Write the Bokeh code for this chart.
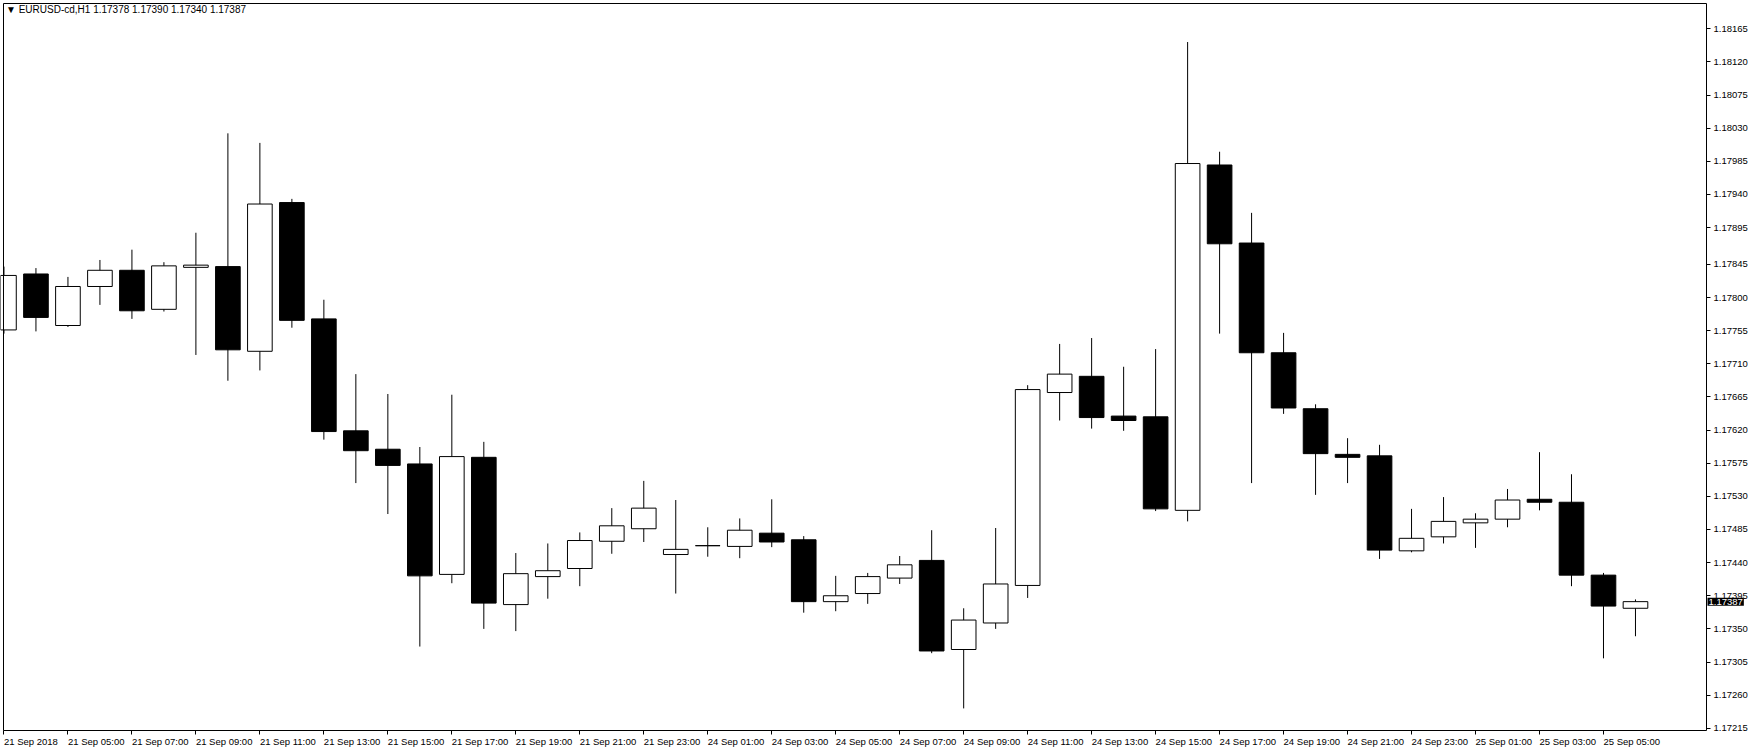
from bokeh.plotting import figure
from bokeh.models import (Range1d, FixedTicker, NumeralTickFormatter, Label,
                          ColumnDataSource, LinearAxis)
from bokeh.embed import file_html
from bokeh.resources import INLINE

title_text = "\u25bc EURUSD-cd,H1  1.17378 1.17390 1.17340 1.17387"

# hourly bars, 21 Sep 2018 03:00 ... 25 Sep 2018 06:00
opens = [1.17756, 1.17832, 1.17762, 1.17815, 1.17837, 1.17784, 1.17841, 1.17842, 1.17727, 1.17929,
         1.17771, 1.17619, 1.17594, 1.17574, 1.17424, 1.17583, 1.17383, 1.17421, 1.17432, 1.17469,
         1.17486, 1.17451, 1.17463, 1.17462, 1.17480, 1.17471, 1.17387, 1.17398, 1.17419, 1.17443,
         1.17322, 1.17358, 1.17409, 1.17671, 1.17693, 1.17639, 1.17638, 1.17511, 1.17980, 1.17874,
         1.17725, 1.17649, 1.17587, 1.17585, 1.17456, 1.17475, 1.17494, 1.17499, 1.17526, 1.17522,
         1.17423, 1.17378]
highs = [1.17842, 1.17840, 1.17828, 1.17851, 1.17865, 1.17848, 1.17888, 1.18023, 1.18010, 1.17934,
         1.17797, 1.17696, 1.17669, 1.17597, 1.17668, 1.17604, 1.17453, 1.17466, 1.17481, 1.17514,
         1.17551, 1.17525, 1.17488, 1.17500, 1.17526, 1.17476, 1.17422, 1.17426, 1.17449, 1.17484,
         1.17378, 1.17487, 1.17681, 1.17737, 1.17745, 1.17706, 1.17730, 1.18147, 1.17998, 1.17915,
         1.17752, 1.17655, 1.17609, 1.17600, 1.17513, 1.17529, 1.17507, 1.17540, 1.17590, 1.17560,
         1.17426, 1.17390]
lows = [1.17751, 1.17754, 1.17760, 1.17790, 1.17771, 1.17781, 1.17722, 1.17687, 1.17701, 1.17759,
        1.17607, 1.17548, 1.17506, 1.17326, 1.17412, 1.17350, 1.17347, 1.17391, 1.17408, 1.17452,
        1.17468, 1.17398, 1.17448, 1.17446, 1.17461, 1.17372, 1.17374, 1.17384, 1.17411, 1.17317,
        1.17242, 1.17350, 1.17392, 1.17633, 1.17622, 1.17619, 1.17510, 1.17496, 1.17751, 1.17548,
        1.17642, 1.17532, 1.17548, 1.17445, 1.17454, 1.17466, 1.17460, 1.17488, 1.17511, 1.17408,
        1.17310, 1.17340]
closes = [1.17830, 1.17773, 1.17815, 1.17837, 1.17782, 1.17843, 1.17844, 1.17729, 1.17927, 1.17769,
          1.17618, 1.17592, 1.17572, 1.17422, 1.17584, 1.17385, 1.17425, 1.17429, 1.17470, 1.17490,
          1.17514, 1.17458, 1.17463, 1.17484, 1.17468, 1.17387, 1.17395, 1.17421, 1.17437, 1.17320,
          1.17362, 1.17411, 1.17675, 1.17696, 1.17637, 1.17633, 1.17513, 1.17982, 1.17873, 1.17725,
          1.17650, 1.17588, 1.17583, 1.17457, 1.17473, 1.17496, 1.17499, 1.17525, 1.17522, 1.17423,
          1.17381, 1.17387]

x_tick_labels = ["21 Sep 2018", "21 Sep 05:00", "21 Sep 07:00", "21 Sep 09:00", "21 Sep 11:00",
                 "21 Sep 13:00", "21 Sep 15:00", "21 Sep 17:00", "21 Sep 19:00", "21 Sep 21:00",
                 "21 Sep 23:00", "24 Sep 01:00", "24 Sep 03:00", "24 Sep 05:00", "24 Sep 07:00",
                 "24 Sep 09:00", "24 Sep 11:00", "24 Sep 13:00", "24 Sep 15:00", "24 Sep 17:00",
                 "24 Sep 19:00", "24 Sep 21:00", "24 Sep 23:00", "25 Sep 01:00", "25 Sep 03:00",
                 "25 Sep 05:00"]
x_tick_bars = [2 * k for k in range(len(x_tick_labels))]

y_tick_values = [1.18165, 1.18120, 1.18075, 1.18030, 1.17985, 1.17940, 1.17895, 1.17845,
                 1.17800, 1.17755, 1.17710, 1.17665, 1.17620, 1.17575, 1.17530, 1.17485,
                 1.17440, 1.17395, 1.17350, 1.17305, 1.17260, 1.17215]
last_price = 1.17387

FONT = "Liberation Sans"
X0, X1 = -0.03, 53.22          # chart window in bar units
Y0, Y1 = 1.17212, 1.18200      # chart window in price units

# canvas geometry (pixels); the Bokeh page template has no body margin
W, H = 1750, 750
FRAME_L, FRAME_R = 2.5, 1706
FRAME_T, FRAME_B = 2.5, 730
px_bar = (FRAME_R - FRAME_L) / (X1 - X0)
px_price = (FRAME_B - FRAME_T) / (Y1 - Y0)
x_range = Range1d(X0 - FRAME_L / px_bar, X1 + (W - FRAME_R) / px_bar)
y_range = Range1d(Y0 - (H - FRAME_B) / px_price, Y1 + FRAME_T / px_price)

n = len(opens)
xs = list(range(n))
tops = [max(o, c) for o, c in zip(opens, closes)]
bottoms = [min(o, c) for o, c in zip(opens, closes)]
fills = ["white" if c >= o else "black" for o, c in zip(opens, closes)]
src = ColumnDataSource(dict(x=xs, high=highs, low=lows, top=tops, bottom=bottoms, fill=fills))

p = figure(frame_width=W, frame_height=H, x_range=x_range, y_range=y_range,
           x_axis_location=None, y_axis_location=None,
           output_backend="svg", toolbar_location=None,
           min_border=0, min_border_left=0, min_border_right=0,
           min_border_top=0, min_border_bottom=0)
p.background_fill_color = "white"
p.border_fill_color = "white"
p.outline_line_color = None
p.grid.visible = False

p.segment(x0="x", y0="low", x1="x", y1="high", source=src, line_color="black", line_width=1)
p.vbar(x="x", width=0.77, top="top", bottom="bottom", source=src,
       fill_color="fill", line_color="black", line_width=1)

# price axis on the right edge of the chart window
ya = LinearAxis(ticker=FixedTicker(ticks=y_tick_values),
                formatter=NumeralTickFormatter(format="0.00000"),
                fixed_location=X1, bounds=(Y0, Y1))
ya.major_label_text_font = FONT
ya.major_label_text_font_size = "9.5px"
ya.major_label_text_color = "black"
ya.major_tick_in = 0
ya.major_tick_out = 4
ya.minor_tick_in = 0
ya.minor_tick_out = 0
ya.major_label_standoff = 3
ya.axis_line_color = "black"
p.add_layout(ya, "right")

# time axis: tick marks only, labels drawn left-aligned as annotations
xa = LinearAxis(ticker=FixedTicker(ticks=[], minor_ticks=x_tick_bars),
                fixed_location=Y0, bounds=(X0, X1))
xa.major_tick_in = 0
xa.major_tick_out = 0
xa.minor_tick_in = 0
xa.minor_tick_out = 4
xa.minor_tick_line_color = "black"
xa.axis_line_color = "black"
p.add_layout(xa, "below")

# left and top window borders
la = LinearAxis(ticker=FixedTicker(ticks=[]), fixed_location=X0, bounds=(Y0, Y1))
la.major_tick_out = 0
la.minor_tick_out = 0
la.axis_line_color = "black"
p.add_layout(la, "left")
ta = LinearAxis(ticker=FixedTicker(ticks=[]), fixed_location=Y1, bounds=(X0, X1))
ta.major_tick_out = 0
ta.minor_tick_out = 0
ta.axis_line_color = "black"
p.add_layout(ta, "above")

for xb, lab in zip(x_tick_bars, x_tick_labels):
    p.add_layout(Label(x=xb, y=Y0, x_offset=0, y_offset=-5, text=lab,
                       text_font=FONT, text_font_size="9.5px", text_color="black",
                       text_align="left", text_baseline="top"))

p.add_layout(Label(x=X0, y=Y1, x_offset=3, y_offset=-1, text=title_text,
                   text_font=FONT, text_font_size="10px", text_color="black",
                   text_align="left", text_baseline="top"))

p.add_layout(Label(x=X1, y=last_price, x_offset=1, y_offset=0, text="%.5f" % last_price,
                   text_font=FONT, text_font_size="9.5px", text_color="white",
                   text_align="left", text_baseline="middle",
                   background_fill_color="black", padding=1))

open("out.html", "w").write(file_html(p, INLINE))
